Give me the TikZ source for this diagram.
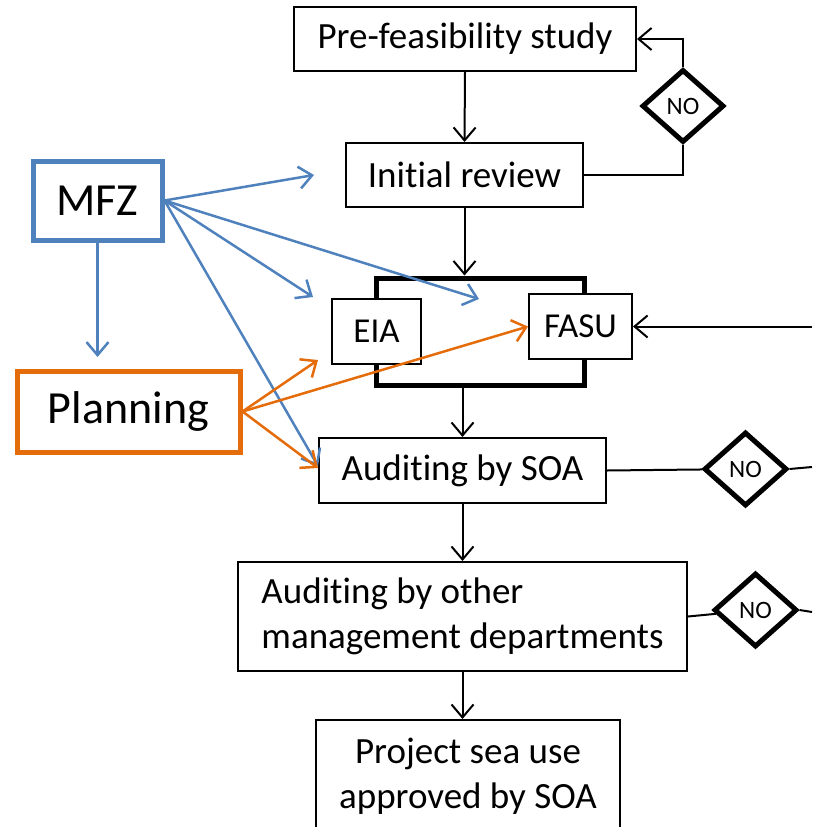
\documentclass[tikz,border=0pt]{standalone}
\usepackage{fontspec}
\setmainfont{Carlito}[Ligatures=NoCommon]
\usetikzlibrary{arrows.meta,shapes.geometric}
\definecolor{mblue}{HTML}{4F81BD}
\definecolor{morange}{HTML}{E46C0A}
\begin{document}
\begin{tikzpicture}[x=1pt,y=-1pt,
  box/.style={draw,line width=2pt,fill=white,inner sep=0pt,align=center,font=\fontsize{37pt}{45pt}\selectfont},
  grpbox/.style={draw,line width=5pt,inner sep=0pt},
  nobox/.style={draw,diamond,line width=5pt,fill=white,inner sep=0pt,font=\fontsize{25pt}{30pt}\selectfont},
  bigbox/.style={draw,line width=5pt,fill=white,inner sep=0pt,font=\fontsize{46pt}{54pt}\selectfont},
  arr/.style={line width=2pt,-{Straight Barb[length=13pt,width=22pt]}},
  ln/.style={line width=2pt},
  barr/.style={line width=2.5pt,mblue,-{Straight Barb[length=13pt,width=22pt]}},
  oarr/.style={line width=2.5pt,morange,-{Straight Barb[length=13pt,width=22pt]}}
]
\clip (0,0) rectangle (812,827);
% main column
\node[box,minimum width=342pt,minimum height=64pt] (pre) at (465,39) {Pre-feasibility study};
\node[box,minimum width=237pt,minimum height=64pt] (init) at (464.5,175) {Initial review};
\node[grpbox,minimum width=208pt,minimum height=107pt] (grp) at (480,331.5) {};
\node[box,minimum width=89pt,minimum height=65pt,font=\fontsize{35pt}{42pt}\selectfont] (eia) at (376.5,331.5) {EIA};
\node[box,minimum width=103pt,minimum height=65pt,font=\fontsize{35pt}{42pt}\selectfont] (fasu) at (580.5,326.5) {FASU};
\node[box,minimum width=287pt,minimum height=65pt] (soa) at (462.5,470.5) {Auditing by SOA};
\node[box,minimum width=449pt,minimum height=109pt,align=left] (other) at (462.5,616.5) {Auditing by other\\management departments};
\node[box,minimum width=304pt,minimum height=112pt] (proj) at (468,776) {Project sea use\\approved by SOA};
% diamonds
\node[nobox,minimum width=82pt,minimum height=73pt] (d1) at (683,106) {NO};
\node[nobox,minimum width=83pt,minimum height=74pt] (d2) at (745.5,469) {NO};
\node[nobox,minimum width=83pt,minimum height=74pt] (d3) at (755.5,610) {NO};
% side boxes
\node[bigbox,draw=mblue,minimum width=129pt,minimum height=79pt] (mfz) at (97.5,200.5) {MFZ};
\node[bigbox,draw=morange,minimum width=223pt,minimum height=81pt] (plan) at (128.5,411.5) {Planning};
% coordinates
\coordinate (fin) at (812,326.5);
\coordinate (d2out) at (812,467);
\coordinate (d3out) at (812,612);
\coordinate (b1) at (314,175);
\coordinate (b2) at (313,297);
\coordinate (b3) at (479,299);
\coordinate (b4) at (318,466);
\coordinate (b5) at (97.5,357);
\coordinate (o1) at (318,360);
\coordinate (o3) at (318,468);
% black connectors
\draw[arr] (pre.south) -- (init.north);
\draw[arr] (init.south) -- (init.south |- grp.north);
\draw[arr] (soa.north |- grp.south) -- (soa.north);
\draw[arr] (soa.south) -- (soa.south |- other.north);
\draw[arr] (other.south) -- (other.south |- proj.north);
\draw[ln] (init.east) -| (d1.south);
\draw[arr] (d1.north) |- (pre.east);
\draw[arr] (fin) -- (fasu.east);
\draw[ln] (soa.east) -- (d2);
\draw[ln] (d2.east) -- (d2out);
\draw[ln] (other.east) -- (d3);
\draw[ln] (d3.east) -- (d3out);
% blue connectors
\draw[barr] (mfz.east) -- (b1);
\draw[barr] (mfz.east) -- (b2);
\draw[barr] (mfz.east) -- (b3);
\draw[barr] (mfz.east) -- (b4);
\draw[barr] (mfz.south) -- (b5);
% orange connectors
\draw[oarr] (plan.east) -- (o1);
\draw[oarr] (plan.east) -- (fasu.west);
\draw[oarr] (plan.east) -- (o3);
\end{tikzpicture}
\end{document}
